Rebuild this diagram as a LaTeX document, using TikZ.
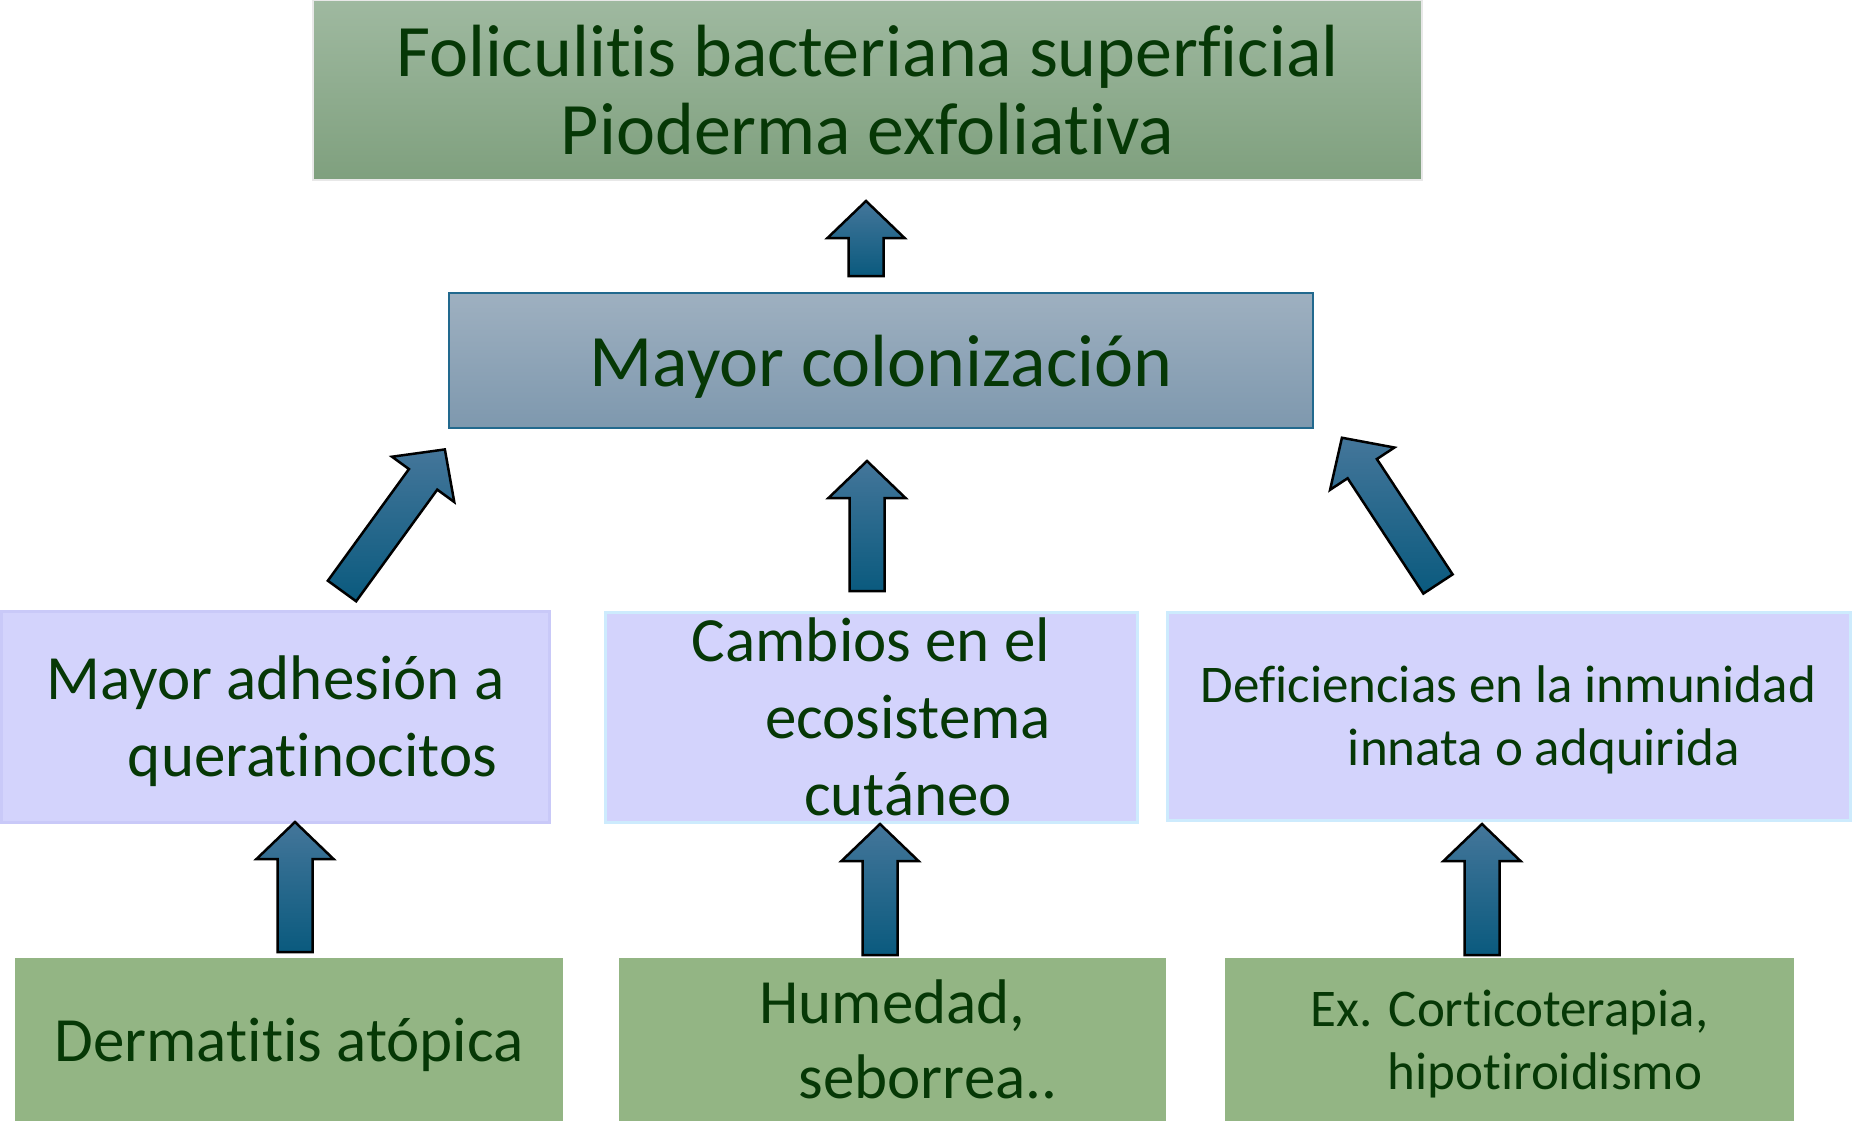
\documentclass[tikz,border=0pt]{standalone}
\usepackage{fontspec}
\setmainfont[Ligatures=NoCommon]{Carlito}
\usepackage{xcolor}

\definecolor{txtgreen}{HTML}{063806}
\definecolor{topup}{HTML}{9FB9A0}
\definecolor{topdown}{HTML}{7FA07E}
\definecolor{colup}{HTML}{9EB0C0}
\definecolor{coldown}{HTML}{7E98AE}
\definecolor{colline}{HTML}{22698E}
\definecolor{causefill}{HTML}{D3D3FC}
\definecolor{causeline}{HTML}{C9C9F8}
\definecolor{causeline2}{HTML}{CDEBFD}
\definecolor{basefill}{HTML}{93B584}
\definecolor{arrup}{HTML}{44769A}
\definecolor{arrdown}{HTML}{0A5A7E}

\tikzset{
  pics/blockarrow/.style={code={
    \path[arrowfill] (0,-17.5) -- (#1-37,-17.5) -- (#1-37,-38.5) -- (#1,0)
      -- (#1-37,38.5) -- (#1-37,17.5) -- (0,17.5) -- cycle;
  }}
}

\begin{document}
\begin{tikzpicture}[x=1pt,y=1pt,yscale=-1,xscale=1,
  box/.style={inner sep=0pt, align=center, text=txtgreen},
  topbox/.style={box, draw={rgb,255:red,232;green,232;blue,232}, line width=1.5pt, top color=topup, bottom color=topdown},
  colbox/.style={box, draw=colline, line width=2.5pt, top color=colup, bottom color=coldown},
  causebox/.style={box, draw=causeline, line width=3pt, fill=causefill},
  basebox/.style={box, fill=basefill},
  big/.style={font={\fontsize{74}{78}\selectfont}},
  mid/.style={font={\fontsize{63}{77}\selectfont}},
  small/.style={font={\fontsize{53}{63}\selectfont}},
  arrowfill/.style={draw=black, line width=2.5pt, line join=miter, top color=arrup, bottom color=arrdown}]

\useasboundingbox (0,0) rectangle (1853,1121);

% boxes
\node[topbox, big, minimum width=1109pt, minimum height=180pt] (top) at (867.5,90)
  {Foliculitis bacteriana superficial\\ Pioderma exfoliativa};
\node[colbox, big, text depth=0pt, minimum width=864pt, minimum height=135pt] (colon) at (881,360.5)
  {Mayor colonización};

\node[causebox, mid, text depth=0pt, minimum width=548pt, minimum height=211pt] (adh) at (275.5,716.5)
  {Mayor adhesión a\\ \hspace*{74pt}queratinocitos};
\node[causebox, mid, draw=causeline2, minimum width=532pt, minimum height=210pt] (eco) at (871,717)
  {Cambios en el\\ \hspace*{74pt}ecosistema\\ \hspace*{74pt}cutáneo};
\node[causebox, small, text depth=0pt, draw=causeline2, minimum width=683pt, minimum height=208pt] (inm) at (1508.5,716)
  {Deficiencias en la inmunidad\\ \hspace*{71pt}innata o adquirida};

\node[basebox, mid, text depth=0pt, minimum width=548pt, minimum height=163pt] (derm) at (289,1039.5)
  {Dermatitis atópica};
\node[basebox, mid, font={\fontsize{63}{75}\selectfont}, minimum width=547pt, minimum height=163pt] (hum) at (892.5,1039.5)
  {Humedad,\\ \hspace*{71pt}seborrea..};
\node[basebox, small, text depth=0pt, minimum width=569pt, minimum height=163pt] (cort) at (1509.5,1039.5)
  {Ex. Corticoterapia,\\ \hspace*{71pt}hipotiroidismo};

% arrows
\coordinate (t0) at (866,276);
\coordinate (t1) at (867,591);
\coordinate (t2) at (342,591);
\coordinate (t3) at (1438,584);
\coordinate (t4) at (295,952);
\coordinate (t5) at (880,955);
\coordinate (t6) at (1482,955);

\pic[rotate=90] at (t0) {blockarrow=75};
\pic[rotate=90] at (t1) {blockarrow=130};
\pic[rotate=54] at (t2) {blockarrow=175};
\pic[rotate=123.3] at (t3) {blockarrow=175};
\pic[rotate=90] at (t4) {blockarrow=130};
\pic[rotate=90] at (t5) {blockarrow=131};
\pic[rotate=90] at (t6) {blockarrow=131};

\end{tikzpicture}
\end{document}
